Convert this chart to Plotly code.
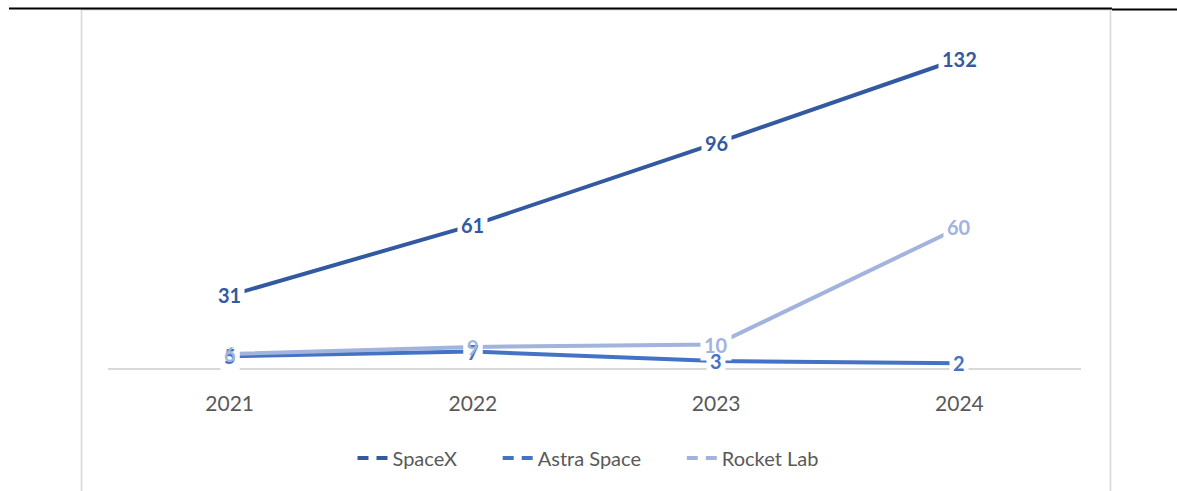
import plotly.graph_objects as go

years = ["2021", "2022", "2023", "2024"]
spacex = [31, 61, 96, 132]
astra = [5, 7, 3, 2]
rocket = [6, 9, 10, 60]

series = [
    ("SpaceX", spacex, "#335AA1"),
    ("Astra Space", astra, "#4472C4"),
    ("Rocket Lab", rocket, "#A2B3DD"),
]

W, H = 1177, 491
L, R, T, B = 108, 96, 40, 123
PW, PH = W - L - R, H - T - B


def px(x):
    return (x - L) / PW


def py(y):
    return (H - B - y) / PH


FONT = "Lato, 'Noto Sans', sans-serif"
NB = "\u00a0"

fig = go.Figure()
for name, vals, col in series:
    fig.add_trace(go.Scatter(x=years, y=vals, mode="lines", name=name,
                             line=dict(color=col, width=4), showlegend=False,
                             hoverinfo="skip"))
legend_names = [series[0][0] + NB * 7, series[1][0] + NB * 7, series[2][0]]
for (name, vals, col), lname in zip(series, legend_names):
    fig.add_trace(go.Scatter(x=[None], y=[None], mode="lines", name=lname,
                             line=dict(color=col, width=4, dash="11px,8px"),
                             showlegend=True))

annotations = []
# white label backgrounds first
for name, vals, col in series:
    for i, v in enumerate(vals):
        annotations.append(dict(x=i, y=v, xref="x", yref="y", text=f"<b>{v}</b>",
                                showarrow=False, bgcolor="white", borderpad=3,
                                font=dict(family=FONT, size=20, color="rgba(255,255,255,0)")))
# label texts on top
for name, vals, col in series:
    for i, v in enumerate(vals):
        annotations.append(dict(x=i, y=v, xref="x", yref="y", text=f"<b>{v}</b>",
                                showarrow=False, borderpad=3,
                                font=dict(family=FONT, size=20, color=col)))

shapes = [
    dict(type="rect", xref="paper", yref="paper",
         x0=px(81.5), x1=px(1110.5), y0=py(540), y1=py(9.8),
         line=dict(color="#D9D9D9", width=1.6), fillcolor="rgba(0,0,0,0)", layer="below"),
    dict(type="line", xref="paper", yref="paper",
         x0=px(9), x1=px(1112), y0=py(8.5), y1=py(8.5),
         line=dict(color="#000000", width=2)),
    dict(type="line", xref="paper", yref="paper",
         x0=px(1112), x1=px(1177), y0=py(9.5), y1=py(9.5),
         line=dict(color="#000000", width=2)),
]

fig.update_layout(
    width=W, height=H,
    margin=dict(l=L, r=R, t=T, b=B, pad=0),
    paper_bgcolor="white", plot_bgcolor="white",
    showlegend=True,
    legend=dict(orientation="h", x=px(588), xanchor="center", y=py(458), yanchor="middle",
                font=dict(family=FONT, size=20, color="#595959"),
                bgcolor="rgba(0,0,0,0)", itemwidth=30, tracegroupgap=0),
    xaxis=dict(type="category", categoryorder="array", categoryarray=years,
               range=[-0.5, 3.5], showgrid=False, zeroline=False,
               showline=True, linecolor="#D9D9D9", linewidth=1.5,
               ticks="", ticklabelstandoff=16,
               tickfont=dict(family=FONT, size=21, color="#595959")),
    yaxis=dict(range=[0, 140], showgrid=False, zeroline=False, showline=False,
               showticklabels=False, ticks=""),
    annotations=annotations,
    shapes=shapes,
)

fig.write_html("out.html")
